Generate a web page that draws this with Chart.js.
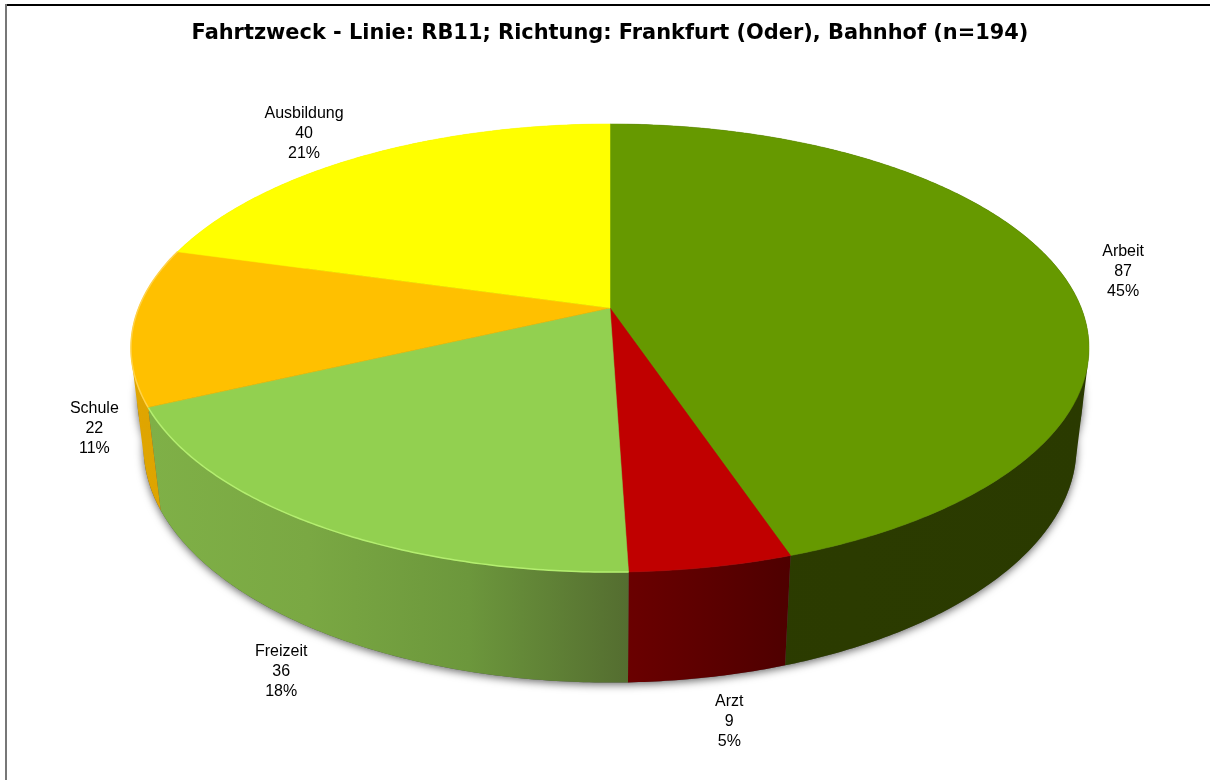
<!DOCTYPE html>
<html lang="de">
<head>
<meta charset="utf-8">
<title>Fahrtzweck</title>
<script src="https://cdn.jsdelivr.net/npm/chart.js@4/dist/chart.umd.min.js"></script>
<style>
    html, body { margin: 0; padding: 0; background: #fff; }
    #wrap { position: relative; width: 1210px; height: 780px; overflow: hidden; }
    #frameTop { position: absolute; left: 5px; top: 4px; right: 0; height: 2px; background: #000; }
    #frameLeft { position: absolute; left: 5px; top: 4px; bottom: 0; width: 2px; background: #777; }
    canvas { position: absolute; left: 0; top: 0; }
</style>
</head>
<body>
<div id="wrap">
    <div id="frameTop"></div>
    <div id="frameLeft"></div>
    <canvas id="pieChart" width="1210" height="780"></canvas>
</div>
<script>
const titleText = "Fahrtzweck - Linie: RB11; Richtung: Frankfurt (Oder), Bahnhof (n=194)";
const categories = ["Arbeit", "Arzt", "Freizeit", "Schule", "Ausbildung"];
const counts = [87, 9, 36, 22, 40];
const percentLabels = ["45%", "5%", "18%", "11%", "21%"];
const topColors = ["#669900", "#c00000", "#92d050", "#ffc000", "#ffff00"];
const sideColors = [
    ["#2c3c00", "#2a3a00"],
    ["#6a0000", "#4e0000"],
    ["#7fb047", "#7aa843", "#6c973c", "#546d30"],
    ["#e0a600", "#dca200"],
    ["#e0e000", "#e0e000"]
];
const rimColors = [null, null, "#b4ee70", "#ffd24a", null];

// where each label sits, relative to the rim point of its slice
const labelNudge = [[61, -2], [18, 155], [-38, 146], [-39, 103], [-57, -23]];

// perspective of the 3d disc
const view = {
    cx: 610, cy: 308,
    rx: 471.3, ry: 216.9, tilt: 0.1786,
    drop: 100.5, recede: 0.026
};

// f = 0 is the top face, f = 1 the bottom edge of the wall
function wallPoint(a, f) {
    const w = 1 - view.tilt * Math.sin(a) + view.recede * f;
    return {
        x: view.cx + view.rx * Math.cos(a) / w,
        y: view.cy + (view.ry * Math.sin(a) + view.drop * f) / w
    };
}

function topPoint(a) {
    return wallPoint(a, 0);
}

function bottomPoint(a) {
    return wallPoint(a, 1);
}

function anglesBetween(start, end) {
    const out = [];
    const steps = Math.max(2, Math.ceil((end - start) / 0.01));
    for (let i = 0; i <= steps; i++) out.push(start + (end - start) * i / steps);
    return out;
}

function addPoints(ctx, points) {
    points.forEach((p, i) => i ? ctx.lineTo(p.x, p.y) : ctx.moveTo(p.x, p.y));
    ctx.closePath();
}

function tracePoints(ctx, points) {
    ctx.beginPath();
    addPoints(ctx, points);
}

function signedArea(points) {
    let sum = 0;
    points.forEach((p, i) => {
        const q = points[(i + 1) % points.length];
        sum += p.x * q.y - q.x * p.y;
    });
    return sum;
}

function drawShadow(ctx) {
    const all = anglesBetween(0, Math.PI * 2);
    ctx.save();
    ctx.shadowColor = "rgba(0,0,0,0.6)";
    ctx.shadowBlur = 8;
    ctx.shadowOffsetY = 2;
    ctx.fillStyle = "#555";
    ctx.beginPath();
    addPoints(ctx, all.map(bottomPoint));
    addPoints(ctx, all.map(a => wallPoint(a, 0.5)));
    ctx.fill();
    ctx.restore();
}

function drawWall(ctx, arc, stops) {
    const angles = anglesBetween(arc.startAngle, arc.endAngle);
    const rim = angles.map(topPoint);
    const foot = angles.map(bottomPoint);
    const xs = rim.concat(foot).map(p => p.x);
    const grad = ctx.createLinearGradient(Math.min(...xs), 0, Math.max(...xs), 0);
    stops.forEach((c, i) => grad.addColorStop(i / (stops.length - 1), c));
    ctx.fillStyle = grad;
    // the wall folds over itself at the widest point, so it is one path of
    // quads all wound the same way and the nonzero fill gives their union
    ctx.beginPath();
    for (let i = 0; i < rim.length - 1; i++) {
        const quad = [rim[i], rim[i + 1], foot[i + 1], foot[i]];
        addPoints(ctx, signedArea(quad) < 0 ? quad.reverse() : quad);
    }
    ctx.fill();
}

function drawTop(ctx, arc, rimColor) {
    const angles = anglesBetween(arc.startAngle, arc.endAngle);
    const rim = angles.map(topPoint);
    ctx.fillStyle = arc.options.backgroundColor;
    ctx.strokeStyle = arc.options.backgroundColor;
    ctx.lineWidth = 0.5;
    tracePoints(ctx, [{ x: view.cx, y: view.cy }].concat(rim));
    ctx.fill();
    ctx.stroke();
    if (rimColor) {
        ctx.strokeStyle = rimColor;
        ctx.lineWidth = 1.5;
        ctx.beginPath();
        rim.forEach((p, i) => i ? ctx.lineTo(p.x, p.y) : ctx.moveTo(p.x, p.y));
        ctx.stroke();
    }
}

const disc3d = {
    id: "disc3d",
    beforeDatasetsDraw(chart) {
        const ctx = chart.ctx;
        const arcs = chart.getDatasetMeta(0).data;
        drawShadow(ctx);
        arcs.forEach((arc, i) => drawWall(ctx, arc, sideColors[i]));
        arcs.forEach((arc, i) => drawTop(ctx, arc, rimColors[i]));
        return false; // the flat arcs are replaced by the disc above
    },
    afterDraw(chart) {
        const ctx = chart.ctx;
        ctx.save();
        ctx.font = '16px "Liberation Sans"';
        ctx.fillStyle = "#000";
        ctx.textAlign = "center";
        ctx.textBaseline = "middle";
        chart.getDatasetMeta(0).data.forEach((arc, i) => {
            const p = topPoint((arc.startAngle + arc.endAngle) / 2);
            const x = p.x + labelNudge[i][0];
            const y = p.y + labelNudge[i][1];
            ctx.fillText(categories[i], x, y - 20);
            ctx.fillText(String(counts[i]), x, y);
            ctx.fillText(percentLabels[i], x, y + 20);
        });
        ctx.restore();
    }
};

new Chart(document.getElementById("pieChart").getContext("2d"), {
    type: "pie",
    data: {
        labels: categories,
        datasets: [{ data: counts, backgroundColor: topColors, borderWidth: 0 }]
    },
    options: {
        responsive: false,
        animation: false,
        layout: { padding: { left: 10 } },
        plugins: {
            legend: { display: false },
            tooltip: { enabled: false },
            title: {
                display: true,
                text: titleText,
                color: "#000",
                font: { family: '"DejaVu Sans"', size: 20.9, weight: "bold" },
                padding: { top: 21, bottom: 10 }
            }
        }
    },
    plugins: [disc3d]
});
</script>
</body>
</html>
